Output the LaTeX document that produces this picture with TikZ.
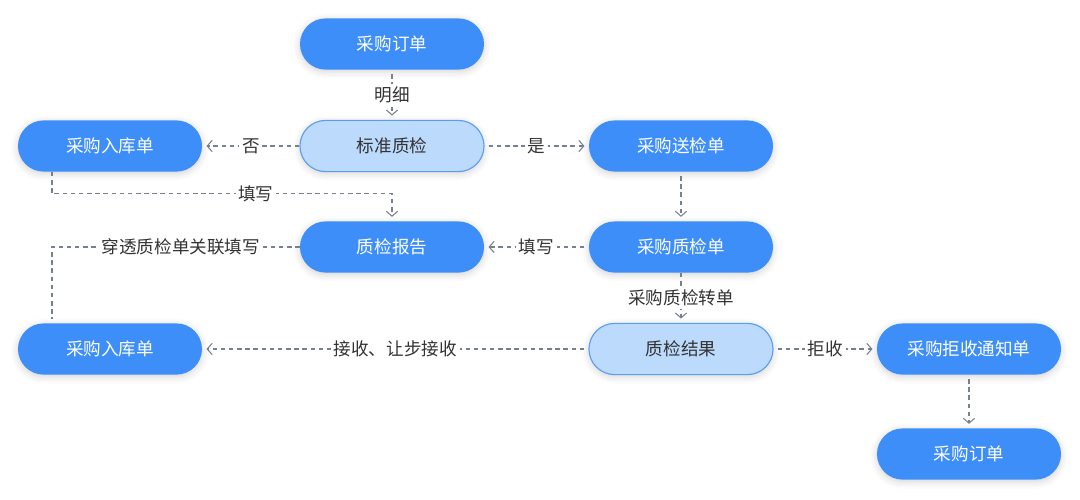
\documentclass[tikz,border=0pt]{standalone}
\usepackage{fontspec}
\setmainfont{Noto Sans CJK SC}
\usepackage{tikz}
\usetikzlibrary{arrows.meta,shadows.blur}
\definecolor{boxblue}{HTML}{3D8EF8}
\definecolor{boxpale}{HTML}{BCDBFC}
\definecolor{boxedge}{HTML}{5C9DF0}
\definecolor{linkgray}{HTML}{76808F}
\definecolor{txtdark}{HTML}{333333}
\tikzset{
  doc/.style={
    rectangle,
    rounded corners=0.64cm,
    minimum width=4.6cm,
    minimum height=1.28cm,
    fill=boxblue,
    text=white,
    font=\fontsize{12.5}{15}\selectfont,
    blur shadow={shadow xshift=0pt,shadow yshift=-1.5pt,shadow blur radius=5pt,shadow opacity=18}
  },
  check/.style={
    doc,
    fill=boxpale,
    draw=boxedge,
    line width=0.8pt,
    text=txtdark
  },
  link/.style={
    draw=linkgray,
    line width=0.75pt,
    dash pattern=on 3.2pt off 2.6pt,
    shorten >=3pt,
    -{Straight Barb[length=3.5pt,width=8pt]}
  },
  gap/.style={
    shorten <=3pt
  },
  lbl/.style={
    fill=white,
    text=txtdark,
    font=\fontsize{12.5}{15}\selectfont,
    inner sep=2pt
  }
}

\begin{document}
\begin{tikzpicture}[x=0.025cm,y=-0.025cm]
    \useasboundingbox (0,0) rectangle (1080,500);
    \node[doc] (po) at (392,44) {采购订单};
    \node[check] (bzzj) at (392,146) {标准质检};
    \node[doc] (rk1) at (110,146) {采购入库单};
    \node[doc] (sj) at (681,146) {采购送检单};
    \node[doc] (bg) at (392,247) {质检报告};
    \node[doc] (zjd) at (681,247) {采购质检单};
    \node[doc] (rk2) at (110,349) {采购入库单};
    \node[check] (jg) at (681,349) {质检结果};
    \node[doc] (js) at (969,349) {采购拒收通知单};
    \node[doc] (po2) at (969,454) {采购订单};
    % links
    \draw[link,gap] (po) -- node[lbl] {明细} (bzzj);
    \draw[link] (bzzj) -- node[lbl] {否} (rk1);
    \draw[link,gap] (bzzj) -- node[lbl] {是} (sj);
    \draw[link] ([xshift=-1.45cm]rk1.south) -- ++(0,22) -| node[lbl,pos=0.3] {填写} (bg.north);
    \draw[link,gap] (sj) -- (zjd);
    \draw[link,gap] (zjd) -- node[lbl] {填写} (bg);
    \draw[link] (zjd) -- node[lbl] {采购质检转单} (jg);
    \draw[link,gap] (jg) -- node[lbl] {接收、让步接收} (rk2);
    \draw[link,gap] (jg) -- node[lbl] {拒收} (js);
    \draw[link,gap] (js) -- (po2);
    \draw[link,-] (bg.west) -| node[lbl,pos=0.24] {穿透质检单关联填写} ([xshift=-1.45cm]rk2.north);
\end{tikzpicture}
\end{document}
